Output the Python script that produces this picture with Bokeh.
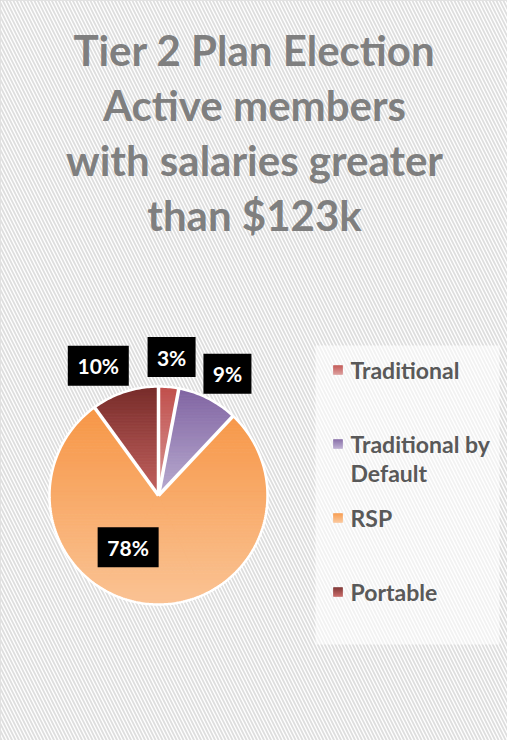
import math
from bokeh.plotting import figure
from bokeh.models import Range1d
from bokeh.embed import file_html
from bokeh.resources import INLINE
from bokeh.core.properties import value

# ---------------- data ----------------
categories = ["Traditional", "Traditional by Default", "RSP", "Portable"]
shares = [3, 9, 78, 10]
label_texts = ["3%", "9%", "78%", "10%"]
legend_lines = [["Traditional"], ["Traditional by", "Default"], ["RSP"], ["Portable"]]
title_lines = ["Tier 2 Plan Election", "Active members", "with salaries greater", "than $123k"]

# gradient colours (top -> bottom) for each slice
top_colors = ["#C0504D", "#8064A2", "#F79646", "#772C2A"]
bottom_colors = ["#D99694", "#B9ABD0", "#FAC394", "#C4625F"]

# ---------------- layout ----------------
W, H = 507, 740
FONT = "Lato"


def X(xr):
    return xr - 8


def Y(yr):
    return 748 - yr


cx, cy, R = X(166), Y(503), 109
label_angle_nudge = [0.0, 2.5, 26.8, -6.9]
label_dist = [139, 140, 60, 143]

p = figure(width=W, height=H, output_backend="svg", toolbar_location=None,
           x_range=Range1d(0, W), y_range=Range1d(0, H), min_border=0)
p.axis.visible = False
p.grid.visible = False
p.background_fill_color = "white"
p.border_fill_color = "white"
p.outline_line_color = "#d9d9d9"
p.outline_line_width = 3

# hatched background
p.quad(left=[0], right=[W], bottom=[0], top=[H], fill_color="white", line_color=None,
       hatch_pattern="left_diagonal_line", hatch_color="#dedede", hatch_scale=7, hatch_weight=1.8)


def hexrgb(h):
    h = h.lstrip("#")
    return tuple(int(h[i:i + 2], 16) for i in (0, 2, 4))


def mix(c0, c1, t):
    a, b = hexrgb(c0), hexrgb(c1)
    return "#%02x%02x%02x" % tuple(int(round(a[i] + (b[i] - a[i]) * t)) for i in range(3))


def clip_half(poly, yc, keep_above):
    out = []
    n = len(poly)
    for i in range(n):
        cur = poly[i]
        prev = poly[i - 1]
        cin = (cur[1] >= yc) if keep_above else (cur[1] <= yc)
        pin = (prev[1] >= yc) if keep_above else (prev[1] <= yc)
        if cin:
            if not pin:
                t = (yc - prev[1]) / (cur[1] - prev[1])
                out.append((prev[0] + t * (cur[0] - prev[0]), yc))
            out.append(cur)
        elif pin:
            t = (yc - prev[1]) / (cur[1] - prev[1])
            out.append((prev[0] + t * (cur[0] - prev[0]), yc))
    return out


def gradient_bands(poly, c_top, c_bot, ymin, ymax, step=1.5):
    n = max(1, int(math.ceil((ymax - ymin) / step)))
    xs_l, ys_l, cols = [], [], []
    for k in range(n):
        y1 = ymax - k * (ymax - ymin) / n
        y0 = ymax - (k + 1) * (ymax - ymin) / n
        part = clip_half(clip_half(poly, y0, True), y1, False)
        if len(part) < 3:
            continue
        t = (k + 0.5) / n
        xs_l.append([q[0] for q in part])
        ys_l.append([q[1] for q in part])
        cols.append(mix(c_top, c_bot, t))
    return xs_l, ys_l, cols


total = float(sum(shares))
cum = [0.0]
for s in shares:
    cum.append(cum[-1] + s)


def pt(angle_deg, r):
    a = math.radians(angle_deg)
    return (cx + r * math.sin(a), cy + r * math.cos(a))


# slices (split into convex sub-wedges, gradient over each slice's full height)
for i, s in enumerate(shares):
    a0 = 360 * cum[i] / total
    a1 = 360 * cum[i + 1] / total
    nseg = max(2, int(math.ceil(a1 - a0)))
    full = [(cx, cy)] + [pt(a0 + (a1 - a0) * j / nseg, R) for j in range(nseg + 1)]
    ymin = min(q[1] for q in full)
    ymax = max(q[1] for q in full)
    nsub = max(1, int(math.ceil((a1 - a0) / 60.0)))
    XS, YS, CS = [], [], []
    for m in range(nsub):
        b0 = a0 + (a1 - a0) * m / nsub
        b1 = a0 + (a1 - a0) * (m + 1) / nsub
        ns = max(2, int(math.ceil(b1 - b0)))
        poly = [(cx, cy)] + [pt(b0 + (b1 - b0) * j / ns, R) for j in range(ns + 1)]
        xs_l, ys_l, cols = gradient_bands(poly, top_colors[i], bottom_colors[i], ymin, ymax)
        XS += xs_l
        YS += ys_l
        CS += cols
    p.patches(XS, YS, fill_color=CS, line_color=CS, line_width=1)

# white separators & outer ring
for i in range(len(shares)):
    a = 360 * cum[i] / total
    ex, ey = pt(a, R + 1)
    p.segment(x0=[cx], y0=[cy], x1=[ex], y1=[ey], line_color="white", line_width=3.5)
ring = [pt(d, R) for d in range(0, 361)]
p.line([q[0] for q in ring], [q[1] for q in ring], line_color="white", line_width=2.5)

# data labels
for i, txt in enumerate(label_texts):
    mid = 360 * (cum[i] + cum[i + 1]) / 2 / total + label_angle_nudge[i]
    lx, ly = pt(mid, label_dist[i])
    p.rect(x=[lx], y=[ly], width=13 * len(txt) + 22, height=40, fill_color="black", line_color=None)
    p.text(x=[lx], y=[ly], text=[txt], text_align="center", text_baseline="middle",
           text_color="white", text_font=value(FONT), text_font_style="bold", text_font_size="21px")

# title
for k, line in enumerate(title_lines):
    p.text(x=[254], y=[Y(57) - 55 * k], text=[line], text_align="center", text_baseline="middle",
           text_color="#7f7f7f", text_font=value(FONT), text_font_style="bold", text_font_size="42px")

# legend
p.quad(left=[X(323)], right=[X(507)], top=[Y(353)], bottom=[Y(652)], fill_color="white",
       fill_alpha=0.6, line_color=None)
for i, lines in enumerate(legend_lines):
    my = Y(377.5) - 74 * i
    mx = X(345.5)
    sq = [(mx - 4.5, my - 4.5), (mx + 4.5, my - 4.5), (mx + 4.5, my + 4.5), (mx - 4.5, my + 4.5)]
    xs_l, ys_l, cols = gradient_bands(sq, top_colors[i], bottom_colors[i], my - 4.5, my + 4.5, step=1.0)
    p.patches(xs_l, ys_l, fill_color=cols, line_color=cols, line_width=0.5)
    for j, line in enumerate(lines):
        p.text(x=[X(358)], y=[my - 29 * j], text=[line], text_align="left",
               text_baseline="middle", text_color="#595959", text_font=value(FONT),
               text_font_style="bold", text_font_size="23px")

open("out.html", "w").write(file_html(p, INLINE))
